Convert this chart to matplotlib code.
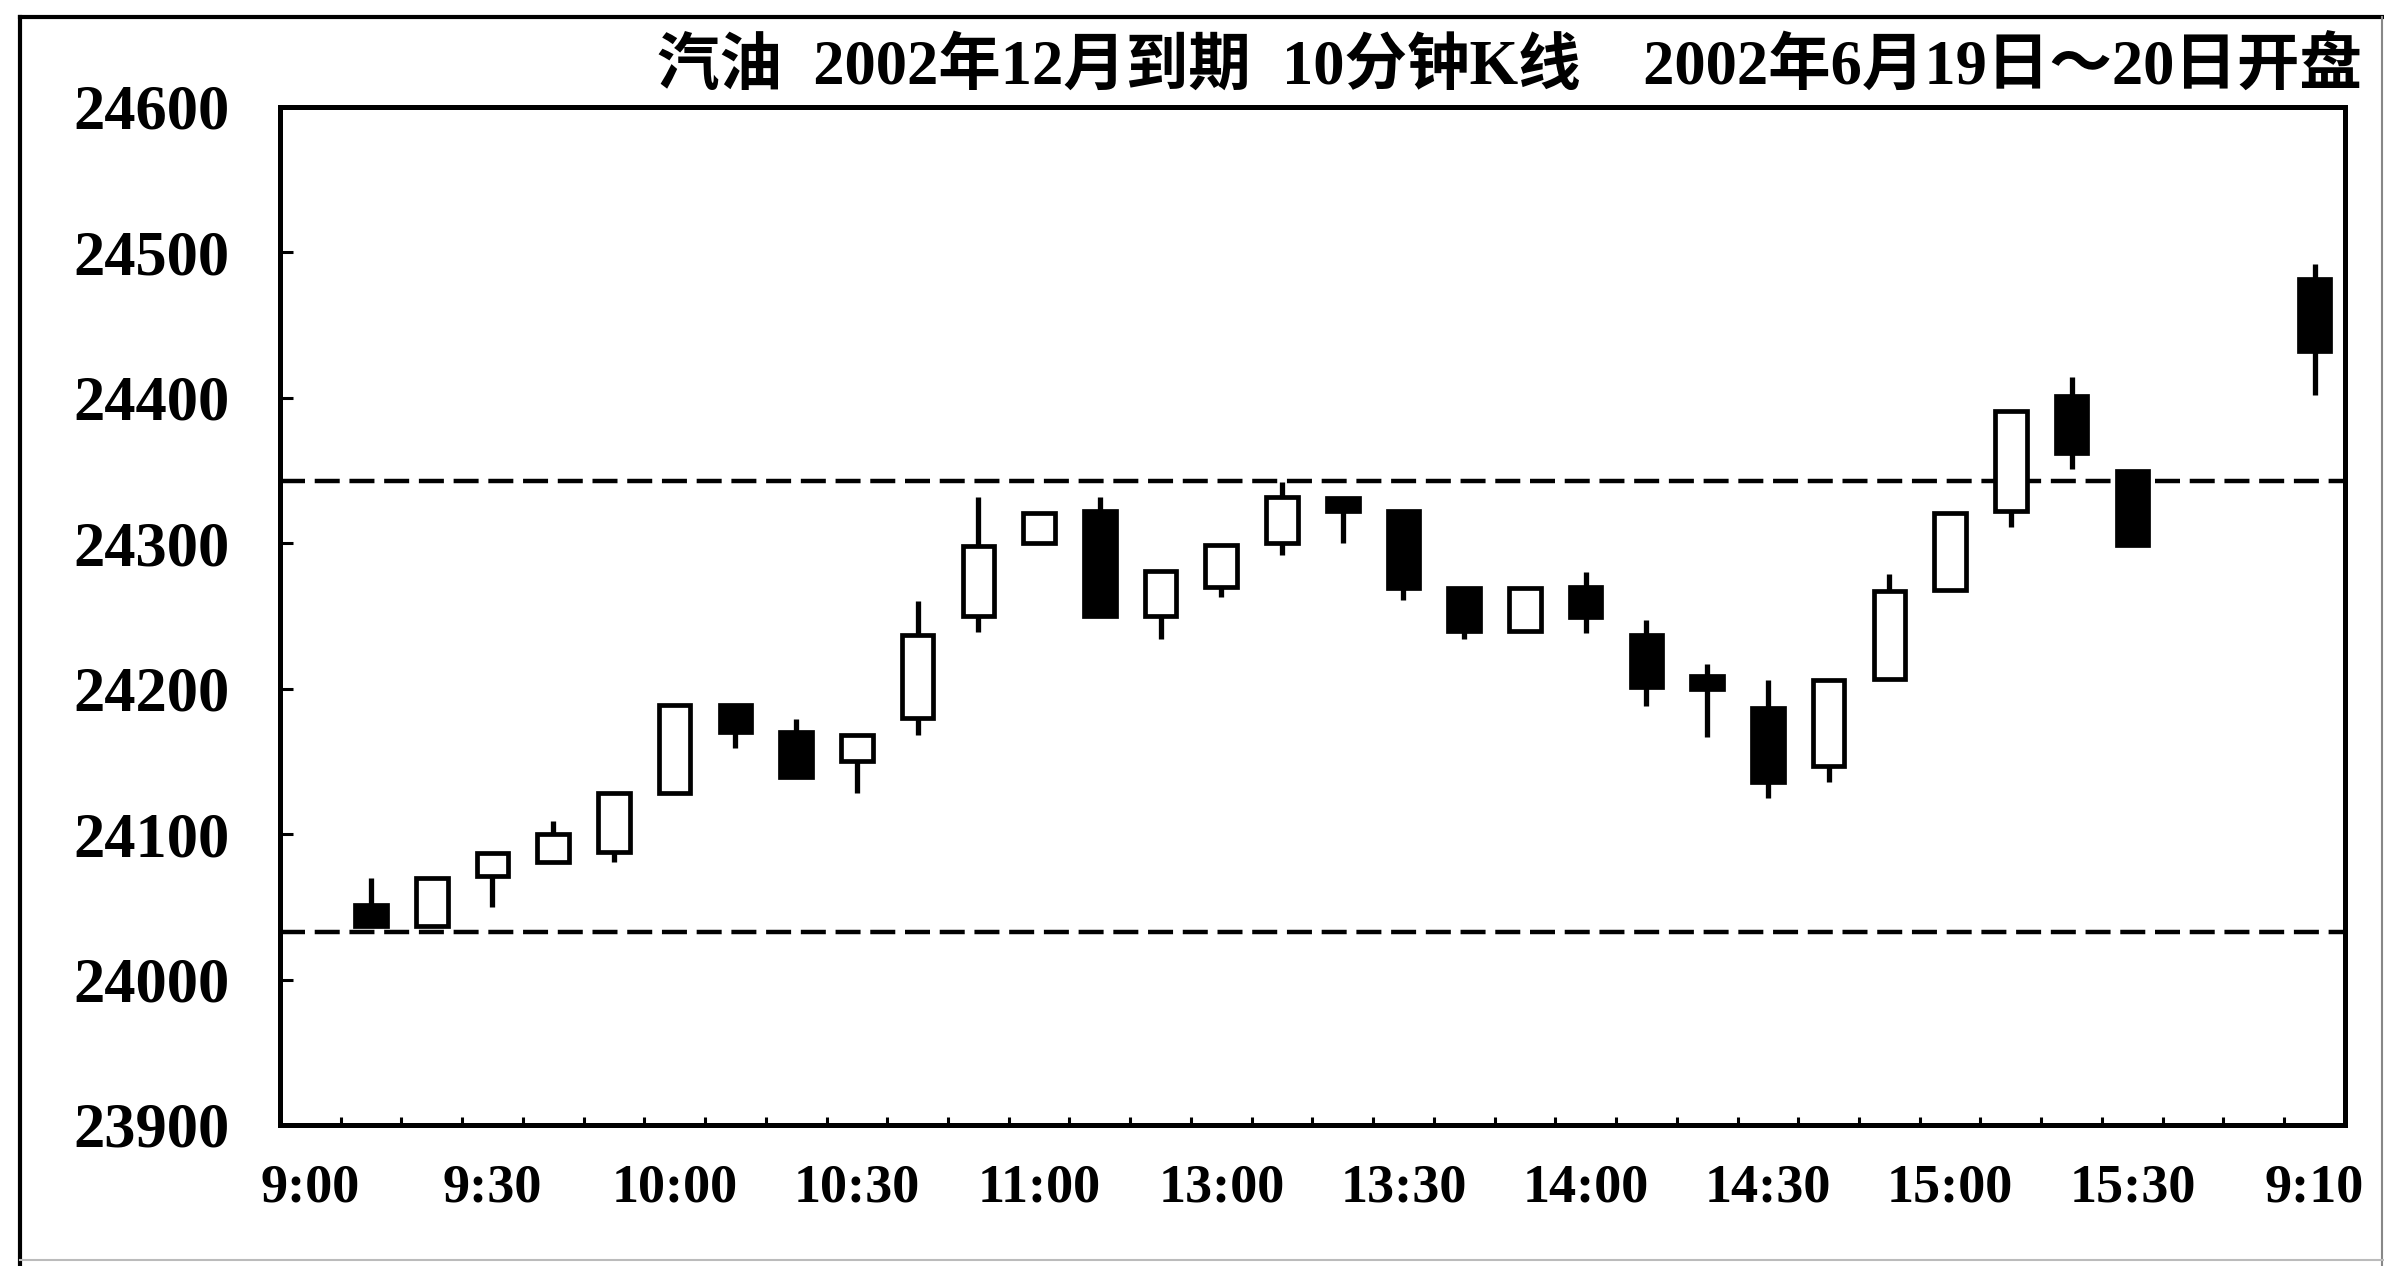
import numpy as np
import matplotlib
matplotlib.use("Agg")
from matplotlib import pyplot as plt
from matplotlib.lines import Line2D

# 10-minute candles (slot index on the x axis, 0 = 9:00)
slots = [1, 2, 3, 4, 5, 6, 7, 8, 9, 10, 11, 12, 13, 14, 15, 16, 17, 18, 19, 20,
         21, 22, 23, 24, 25, 26, 27, 28, 29, 30, 33]
opens = [24051, 24037, 24071, 24081, 24088, 24128, 24189, 24170, 24150, 24180,
         24250, 24300, 24322, 24250, 24270, 24300, 24331, 24322, 24269, 24240,
         24270, 24237, 24209, 24187, 24147, 24207, 24268, 24322, 24401, 24350, 24482]
highs = [24070, 24070, 24087, 24109, 24128, 24189, 24189, 24179, 24168, 24260,
         24332, 24321, 24332, 24281, 24299, 24342, 24331, 24322, 24269, 24269,
         24280, 24247, 24217, 24206, 24206, 24279, 24321, 24391, 24414, 24350, 24492]
lows = [24036, 24037, 24050, 24081, 24081, 24128, 24159, 24139, 24128, 24168,
        24239, 24300, 24250, 24234, 24263, 24292, 24300, 24261, 24234, 24240,
        24238, 24188, 24167, 24125, 24136, 24207, 24268, 24311, 24351, 24299, 24402]
closes = [24037, 24070, 24087, 24100, 24128, 24189, 24170, 24139, 24168, 24237,
          24298, 24321, 24250, 24281, 24299, 24332, 24322, 24269, 24240, 24269,
          24249, 24201, 24200, 24136, 24206, 24267, 24321, 24391, 24362, 24299, 24432]

tick_slots = [0, 3, 6, 9, 12, 15, 18, 21, 24, 27, 30, 33]
tick_labels = ["9:00", "9:30", "10:00", "10:30", "11:00", "13:00", "13:30",
               "14:00", "14:30", "15:00", "15:30", "9:10"]
y_ticks = [23900, 24000, 24100, 24200, 24300, 24400, 24500, 24600]
levels = [24343, 24033]

title = "汽油  2002年12月到期  10分钟K线    2002年6月19日～20日开盘"

plt.rcParams['lines.scale_dashes'] = False

fig = plt.figure(figsize=(23.84, 12.66), dpi=100)
ax = fig.add_axes([0.1174, 0.1114, 0.8662, 0.8041])

x = np.array(slots)
o = np.array(opens)
c = np.array(closes)
h = np.array(highs)
l = np.array(lows)

up = c >= o
ax.vlines(x, l, h, color="black", lw=3.8, zorder=2)
ax.bar(x, np.abs(c - o), bottom=np.minimum(o, c), width=0.52,
       color=np.where(up, "white", "black"), edgecolor="black", lw=3.4, zorder=3)

for lv in levels:
    ax.axhline(lv, color="black", lw=3.2, linestyle=(0, (18, 7)), zorder=1)

ax.set_xlim(-0.5, 33.5)
ax.set_ylim(23900, 24600)

ax.set_yticks(y_ticks)
ax.set_yticklabels([str(v) for v in y_ticks], fontfamily="Liberation Serif",
                   fontweight="bold", fontsize=45)
ax.set_xticks(tick_slots)
ax.set_xticklabels(tick_labels, fontfamily="Liberation Serif",
                   fontweight="bold", fontsize=39)
ax.set_xticks(np.arange(0.5, 33, 1.0), minor=True)

ax.tick_params(axis="y", direction="in", length=9, width=2.2, pad=36)
ax.tick_params(axis="x", which="major", length=0, pad=28)
ax.tick_params(axis="x", which="minor", direction="in", length=6, width=2.2)

for s in ax.spines.values():
    s.set_linewidth(3.6)

fig.text(0.9908, 0.946, title, ha="right", va="center", fontsize=45,
         fontweight="bold", family=["Liberation Serif", "Noto Sans CJK SC"])

# outer frame
fig.add_artist(Line2D([0.0084, 0.0084], [0.0, 0.9866], color="black", lw=3))
fig.add_artist(Line2D([0.0084, 1.0], [0.9866, 0.9866], color="black", lw=3))
fig.add_artist(Line2D([0.999, 0.999], [0.0, 0.9866], color="#888888", lw=1.5))
fig.add_artist(Line2D([0.0084, 1.0], [0.005, 0.005], color="#bbbbbb", lw=1.5))

fig.savefig("out.png", dpi=100)
